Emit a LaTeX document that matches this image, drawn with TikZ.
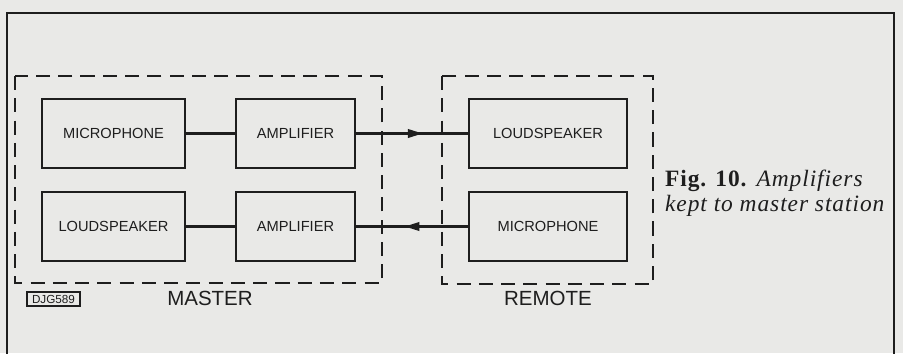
\documentclass[tikz,border=0pt]{standalone}
\usepackage{fontspec}
\usepackage{tikz}
\usetikzlibrary{arrows.meta, positioning, decorations.markings}
\setmainfont{Liberation Serif}
\setsansfont{Liberation Sans}
\newfontfamily\captionfont[LetterSpace=4]{Liberation Serif}
\definecolor{paper}{RGB}{233, 233, 231}
\definecolor{inkblack}{RGB}{30, 30, 30}

\tikzset{
    unitbox/.style={draw=inkblack, line width=2.3pt, minimum height=2.07cm,
        font=\sffamily\fontsize{12.5}{14}\selectfont, text=inkblack},
    stationline/.style={draw=inkblack, line width=1.5pt,
        dash pattern=on 12pt off 7pt},
    signal/.style={draw=inkblack, line width=2.5pt},
    midarrow/.style={postaction={decorate}, decoration={markings,
        mark=at position #1 with {\arrow{Triangle[length=13pt, width=7pt]}}}},
    stationlabel/.style={font=\sffamily\fontsize{17.5}{19}\selectfont, text=inkblack}
}

\begin{document}
\begin{tikzpicture}[x=0.03cm, y=-0.03cm]
    % Background
    \useasboundingbox (0,0) rectangle (903,353);
    \clip (0,0) rectangle (903,353);
    \fill[paper] (0,0) rectangle (903,353);

    % Frame
    \draw[inkblack, line width=1.5pt] (7,370) -- (7,13) -- (894,13) -- (894,370);

    % Stations
    \draw[stationline] (15,76) rectangle (382,283);
    \draw[stationline] (442,76) rectangle (653,284);
    \node[stationlabel] (master) at (210,298) {MASTER};
    \node[stationlabel] (remote) at (548,298) {REMOTE};

    % Master units
    \node[unitbox, minimum width=4.29cm] (micmaster) at (113.5,133.5) {MICROPHONE};
    \node[unitbox, minimum width=3.57cm] (ampout) at (295.5,133.5) {AMPLIFIER};
    \node[unitbox, minimum width=4.29cm] (spkmaster) at (113.5,226.5) {LOUDSPEAKER};
    \node[unitbox, minimum width=3.57cm] (ampin) at (295.5,226.5) {AMPLIFIER};

    % Remote units
    \node[unitbox, minimum width=4.74cm] (spkremote) at (548,133.5) {LOUDSPEAKER};
    \node[unitbox, minimum width=4.74cm] (micremote) at (548,226.5) {MICROPHONE};

    % Signal lines
    \draw[signal] (micmaster) -- (ampout);
    \draw[signal, midarrow=0.6] (ampout) -- (spkremote);
    \draw[signal] (ampin) -- (spkmaster);
    \draw[signal, midarrow=0.57] (micremote) -- (ampin);

    % Drawing number
    \node[draw=inkblack, line width=1pt, inner sep=1pt, minimum width=1.59cm, minimum height=0.42cm,
        font=\sffamily\fontsize{10}{11}\selectfont, text=inkblack] (drawno) at (53.5,299) {DJG589};

    % Caption
    \node[anchor=base west, align=left, text=inkblack, font=\captionfont\fontsize{20}{20.5}\selectfont]
        (caption) at (661,211) {\textbf{Fig. 10.} \textit{Amplifiers}\\\textit{kept to master station}};
\end{tikzpicture}
\end{document}
